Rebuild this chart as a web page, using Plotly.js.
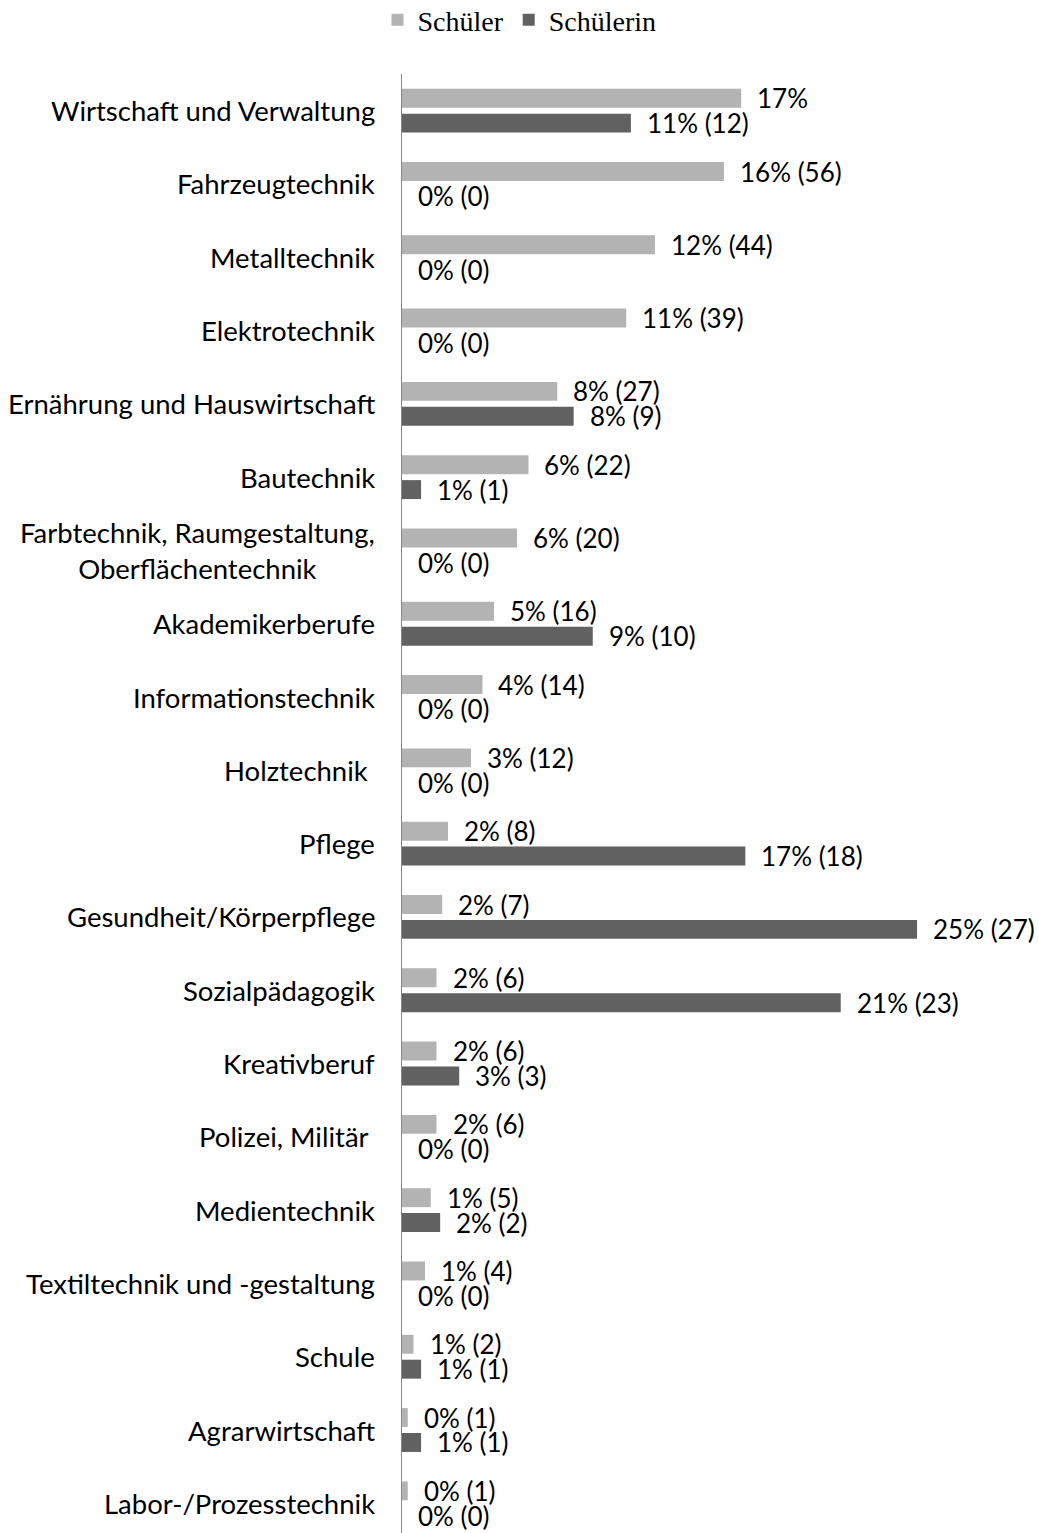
<!DOCTYPE html>
<html>
<head>
<meta charset="utf-8">
<script src="https://cdn.plot.ly/plotly-3.0.1.min.js"></script>
<style>
  html, body { margin: 0; padding: 0; background: #ffffff; }
  #chart { width: 1039px; height: 1533px; }
</style>
</head>
<body>
<div id="chart"></div>
<script>
// Berufsfelder, top to bottom
const categories = [
  'Wirtschaft und Verwaltung',
  'Fahrzeugtechnik',
  'Metalltechnik',
  'Elektrotechnik',
  'Ernährung und Hauswirtschaft',
  'Bautechnik',
  'Farbtechnik, Raumgestaltung,<br>Oberflächentechnik',
  'Akademikerberufe',
  'Informationstechnik',
  'Holztechnik ',
  'Pflege',
  'Gesundheit/Körperpflege',
  'Sozialpädagogik',
  'Kreativberuf',
  'Polizei, Militär ',
  'Medientechnik',
  'Textiltechnik und -gestaltung',
  'Schule',
  'Agrarwirtschaft',
  'Labor-/Prozesstechnik'
];

// Anzahl der Nennungen
const countsSchueler  = [59, 56, 44, 39, 27, 22, 20, 16, 14, 12, 8, 7, 6, 6, 6, 5, 4, 2, 1, 1];
const countsSchuelerin = [12, 0, 0, 0, 9, 1, 0, 10, 0, 0, 18, 27, 23, 3, 0, 2, 0, 1, 1, 0];

// Labels that show only the percentage, without the count
const percentOnlySchueler = [0];
const percentOnlySchuelerin = [];

const seriesNames = ['Schüler', 'Schülerin'];
const seriesColors = ['#b3b3b3', '#616161'];

const sum = a => a.reduce((s, v) => s + v, 0);
const toShare = a => { const t = sum(a); return a.map(v => v / t * 100); };

const shareSchueler = toShare(countsSchueler);
const shareSchuelerin = toShare(countsSchuelerin);

const makeLabels = (shares, counts, percentOnly) =>
  shares.map((p, i) => Math.round(p) + '%' + (percentOnly.includes(i) ? '' : ' (' + counts[i] + ')'));

const labelsSchueler = makeLabels(shareSchueler, countsSchueler, percentOnlySchueler);
const labelsSchuelerin = makeLabels(shareSchuelerin, countsSchuelerin, percentOnlySchuelerin);

const sansFont = 'Lato, "Open Sans", sans-serif';

const traces = [
  { name: seriesNames[0], x: shareSchueler, y: categories, color: seriesColors[0] },
  { name: seriesNames[1], x: shareSchuelerin, y: categories, color: seriesColors[1] }
].map(s => ({
  type: 'bar',
  orientation: 'h',
  name: s.name,
  x: s.x,
  y: s.y,
  marker: { color: s.color },
  hoverinfo: 'skip'
}));

// Value labels beside each bar end; the two bars of a group sit above/below the category centre
const barOffsetPx = 12.4;
const annotations = [];
[[shareSchueler, labelsSchueler, -1], [shareSchuelerin, labelsSchuelerin, 1]].forEach(([vals, labels, side]) => {
  vals.forEach((v, i) => {
    annotations.push({
      xref: 'x', yref: 'y',
      x: v, y: categories[i],
      text: labels[i],
      showarrow: false,
      xanchor: 'left', yanchor: 'middle',
      xshift: 14, yshift: -side * barOffsetPx,
      font: { family: sansFont, size: 26, color: '#000000' }
    });
  });
});

// Category names left of the axis line
categories.forEach(c => {
  annotations.push({
    xref: 'paper', yref: 'y',
    x: 0, y: c,
    text: c.replace(/ $/, '&nbsp;'),
    showarrow: false,
    xanchor: 'right', yanchor: 'middle',
    align: 'center',
    xshift: -25,
    font: { family: sansFont, size: 27.5, color: '#000000' }
  });
});

const layout = {
  width: 1039,
  height: 1533,
  margin: { l: 402, r: 0, t: 74, b: 0 },
  paper_bgcolor: '#ffffff',
  plot_bgcolor: '#ffffff',
  barmode: 'group',
  bargap: 0.32,
  bargroupgap: 0.24,
  showlegend: true,
  legend: {
    orientation: 'h',
    xref: 'container', yref: 'container',
    x: 0.5, xanchor: 'center',
    y: 0.987, yanchor: 'middle',
    font: { family: '"Liberation Serif", "Times New Roman", serif', size: 28, color: '#000000' },
    traceorder: 'normal'
  },
  xaxis: {
    range: [0, 31.21],
    showgrid: false,
    zeroline: false,
    showline: false,
    showticklabels: false,
    ticks: '',
    fixedrange: true
  },
  yaxis: {
    type: 'category',
    range: [19.405, -0.5],
    showgrid: false,
    zeroline: false,
    showline: true,
    linecolor: '#888888',
    linewidth: 1.5,
    showticklabels: false,
    ticks: '',
    fixedrange: true
  },
  annotations: annotations
};

Plotly.newPlot('chart', traces, layout, { displayModeBar: false, staticPlot: true });
</script>
</body>
</html>
